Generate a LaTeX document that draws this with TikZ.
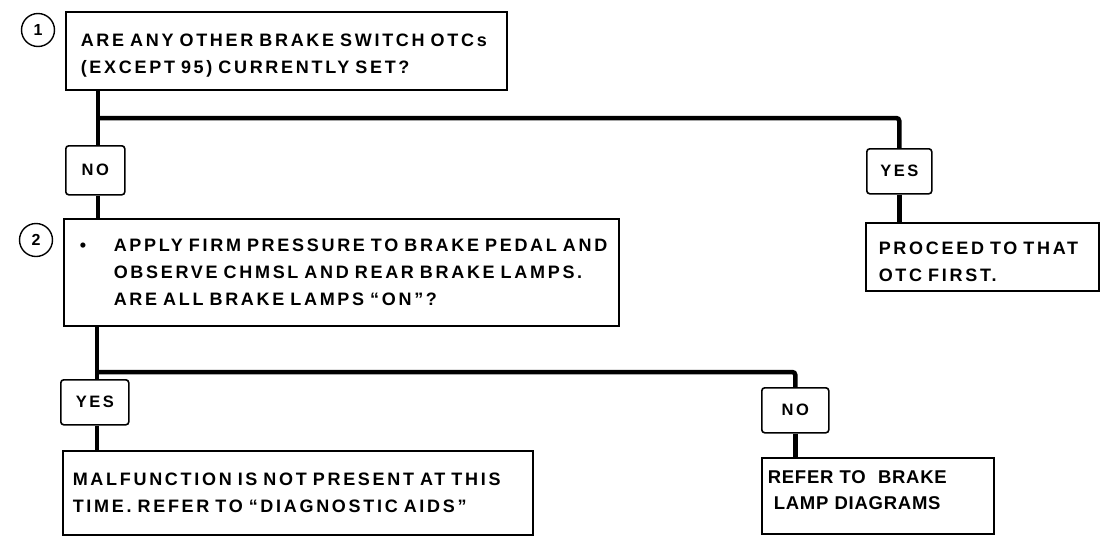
\documentclass[tikz,border=0pt]{standalone}
\usepackage{fontspec}
\newfontfamily\mfont[LetterSpace=15]{Liberation Sans}
\newfontfamily\rfont[LetterSpace=4]{Liberation Sans}
\begin{document}
\begin{tikzpicture}[x=1pt,y=-1pt,
  box/.style={draw, line width=1.6pt, anchor=north west, align=left,
    font=\mfont\bfseries\fontsize{18pt}{27pt}\selectfont},
  lbl/.style={draw, line width=1.6pt, rounded corners=3pt, anchor=north west, inner sep=0pt,
    font=\mfont\bfseries\fontsize{16.5pt}{18pt}\selectfont},
  num/.style={draw, circle, line width=1.4pt, minimum size=33pt, inner sep=0pt,
    font=\mfont\bfseries\fontsize{16pt}{18pt}\selectfont},
  conn/.style={line width=4.5pt}]
\useasboundingbox (0,0) rectangle (1120,544);
% step 1
\node[num] (c1) at (38,30) {1};
\node[box, inner xsep=15pt, text width=411pt, minimum height=78pt] (q1) at (65,11)
  {\rule{0pt}{23pt}ARE ANY OTHER BRAKE SWITCH OTCs\\(EXCEPT 95) CURRENTLY SET?};
\node[lbl, minimum width=59pt, minimum height=49pt] (no1) at (65,145) {NO};
\node[lbl, minimum width=65pt, minimum height=45pt] (yes1) at (866,148) {YES};
\node[box, inner xsep=13pt, text width=207pt, minimum height=68pt] (p1) at (865,222)
  {\rule{0pt}{22pt}PROCEED TO THAT\\OTC FIRST.};
% step 2
\node[num] (c2) at (36,240) {2};
\node[box, inner xsep=16pt, text width=523pt, minimum height=107pt] (q2) at (63,218)
  {\mbox{\makebox[34pt][l]{\textbullet}APPLY FIRM PRESSURE TO BRAKE PEDAL AND}\\
   \mbox{\hspace*{34pt}OBSERVE CHMSL AND REAR BRAKE LAMPS.}\\
   \mbox{\hspace*{34pt}ARE ALL BRAKE LAMPS “ON”?}};
\node[lbl, minimum width=68pt, minimum height=45pt] (yes2) at (60,379) {YES};
\node[lbl, minimum width=67pt, minimum height=45pt] (no2) at (761,387) {NO};
\node[box, inner xsep=10pt, text width=450pt, minimum height=84pt] (m2) at (62,450)
  {MALFUNCTION IS NOT PRESENT AT THIS\\TIME. REFER TO “DIAGNOSTIC AIDS”};
\node[box, inner xsep=6pt, text width=220pt, minimum height=76pt,
  font=\rfont\bfseries\fontsize{18.5pt}{26pt}\selectfont] (r2) at (761,457)
  {REFER TO~~BRAKE\\\hspace*{6pt}LAMP DIAGRAMS\\[-14pt]\mbox{}};
% connectors
\coordinate (b1) at (98,118);
\coordinate (b2) at (97,372);
\draw[conn] (q1.south -| b1) -- (no1.north -| b1);
\draw[conn] (no1.south -| b1) -- (q2.north -| b1);
\draw[conn, rounded corners=3pt] (b1) -| (yes1.north);
\draw[conn] (yes1.south) -- (yes1.south |- p1.north);
\draw[conn] (q2.south -| b2) -- (yes2.north -| b2);
\draw[conn] (yes2.south -| b2) -- (m2.north -| b2);
\draw[conn, rounded corners=3pt] (b2) -| (no2.north);
\draw[conn] (no2.south) -- (no2.south |- r2.north);
\end{tikzpicture}
\end{document}
